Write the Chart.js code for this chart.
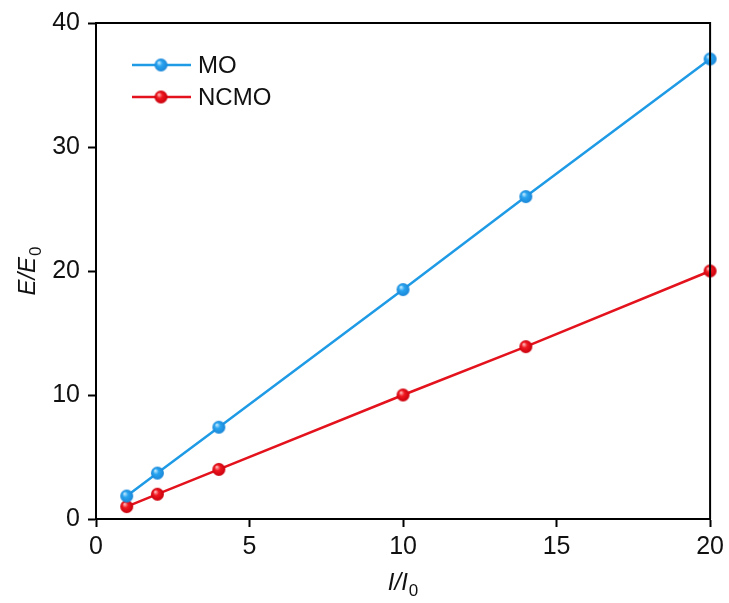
<!DOCTYPE html>
<html>
<head>
<meta charset="utf-8">
<script src="https://cdn.jsdelivr.net/npm/chart.js@4.4.0/dist/chart.umd.min.js"></script>
<style>
  html, body { margin: 0; padding: 0; background: #fff; }
  #wrap { width: 729px; height: 603px; }
</style>
</head>
<body>
<div id="wrap"><canvas id="c" width="729" height="603"></canvas></div>
<script>
// Intensity ratio I/I0 and field ratio E/E0 for the two samples
const xValues = [1, 2, 4, 10, 14, 20];
const moValues = [1.85, 3.7, 7.4, 18.5, 26.0, 37.1];
const ncmoValues = [1.0, 2.0, 4.0, 10.0, 13.9, 20.0];
const seriesNames = ['MO', 'NCMO'];
const xTicks = [0, 5, 10, 15, 20];
const yTicks = [0, 10, 20, 30, 40];

const FONT = '"Liberation Sans", Arial, sans-serif';
const BLUE = '#1f9be6';
const RED = '#e3121c';

// Shaded sphere marker
function makeBall(light, color, dark, r) {
  const size = Math.ceil(r * 2 + 2);
  const cv = document.createElement('canvas');
  cv.width = size; cv.height = size;
  const g = cv.getContext('2d');
  const c = size / 2;
  const grad = g.createRadialGradient(c - r * 0.35, c - r * 0.4, r * 0.05, c, c, r);
  grad.addColorStop(0, light);
  grad.addColorStop(0.4, color);
  grad.addColorStop(1, dark);
  g.fillStyle = grad;
  g.beginPath();
  g.arc(c, c, r, 0, Math.PI * 2);
  g.fill();
  return cv;
}
const blueBall = makeBall('#c8ecff', '#28a4f0', '#1a86d6', 6.5);
const redBall = makeBall('#ffc0c0', '#f01820', '#c8000c', 6.5);

const toPoints = (ys) => xValues.map((x, i) => ({ x: x, y: ys[i] }));

// Frame, legend and axis titles with subscripts
const decor = {
  id: 'decor',
  afterDraw(chart) {
    const ctx = chart.ctx;
    const a = chart.chartArea;
    ctx.save();
    ctx.strokeStyle = '#000';
    ctx.lineWidth = 2;
    ctx.beginPath();
    ctx.moveTo(a.left, a.top);
    ctx.lineTo(a.right, a.top);
    ctx.lineTo(a.right, a.bottom);
    ctx.stroke();

    // legend
    const items = [
      { name: seriesNames[0], color: BLUE, ball: blueBall, y: 65 },
      { name: seriesNames[1], color: RED, ball: redBall, y: 97 }
    ];
    items.forEach(it => {
      ctx.strokeStyle = it.color;
      ctx.lineWidth = 2.5;
      ctx.beginPath();
      ctx.moveTo(132, it.y);
      ctx.lineTo(191, it.y);
      ctx.stroke();
      ctx.drawImage(it.ball, 161 - it.ball.width / 2, it.y - it.ball.height / 2);
      ctx.fillStyle = '#111';
      ctx.font = '24px ' + FONT;
      ctx.textBaseline = 'middle';
      ctx.textAlign = 'left';
      ctx.fillText(it.name, 198, it.y + 1);
    });

    // x title: I/I0
    const cx = (a.left + a.right) / 2;
    ctx.fillStyle = '#111';
    ctx.textBaseline = 'alphabetic';
    ctx.textAlign = 'left';
    ctx.font = 'italic 24px ' + FONT;
    const main = 'I/I';
    const wM = ctx.measureText(main).width;
    ctx.font = '17px ' + FONT;
    const wSub = ctx.measureText('0').width;
    const x0 = cx - (wM + wSub + 1) / 2;
    const by = 590;
    ctx.font = 'italic 24px ' + FONT;
    ctx.fillText(main, x0, by);
    ctx.font = '17px ' + FONT;
    ctx.fillText('0', x0 + wM + 1, by + 6);

    // y title: E/E0 (rotated)
    const cy = (a.top + a.bottom) / 2;
    ctx.save();
    ctx.translate(35, cy);
    ctx.rotate(-Math.PI / 2);
    ctx.font = 'italic 24px ' + FONT;
    const t1 = 'E/E';
    const w1 = ctx.measureText(t1).width;
    ctx.font = '17px ' + FONT;
    const w2 = ctx.measureText('0').width;
    const yx = -(w1 + w2 + 1) / 2;
    ctx.font = 'italic 24px ' + FONT;
    ctx.fillText(t1, yx, 0);
    ctx.font = '17px ' + FONT;
    ctx.fillText('0', yx + w1 + 1, 6);
    ctx.restore();
    ctx.restore();
  }
};

new Chart(document.getElementById('c'), {
  type: 'line',
  data: {
    datasets: [
      {
        label: seriesNames[0],
        data: toPoints(moValues),
        borderColor: BLUE,
        borderWidth: 2.5,
        pointStyle: blueBall,
        pointRadius: 6,
        clip: false,
        tension: 0
      },
      {
        label: seriesNames[1],
        data: toPoints(ncmoValues),
        borderColor: RED,
        borderWidth: 2.5,
        pointStyle: redBall,
        pointRadius: 6,
        clip: false,
        tension: 0
      }
    ]
  },
  options: {
    responsive: false,
    animation: false,
    devicePixelRatio: 1,
    layout: { padding: { top: 22, right: 18, left: 0, bottom: 0 } },
    plugins: { legend: { display: false }, tooltip: { enabled: false } },
    scales: {
      x: {
        type: 'linear',
        min: 0, max: 20,
        afterBuildTicks: (s) => { s.ticks = xTicks.map(v => ({ value: v })); },
        afterFit: (s) => { s.height = 84; },
        grid: { drawOnChartArea: false, drawTicks: true, tickLength: 8, tickWidth: 2, tickColor: '#000' },
        border: { display: true, color: '#000', width: 2 },
        ticks: { color: '#111', font: { family: FONT, size: 25 }, padding: 5, maxRotation: 0 }
      },
      y: {
        type: 'linear',
        min: 0, max: 40,
        afterBuildTicks: (s) => { s.ticks = yTicks.map(v => ({ value: v })); },
        afterFit: (s) => { s.width = 96; },
        grid: { drawOnChartArea: false, drawTicks: true, tickLength: 8, tickWidth: 2, tickColor: '#000' },
        border: { display: true, color: '#000', width: 2 },
        ticks: { color: '#111', font: { family: FONT, size: 25 }, padding: 8 }
      }
    }
  },
  plugins: [decor]
});
</script>
</body>
</html>
